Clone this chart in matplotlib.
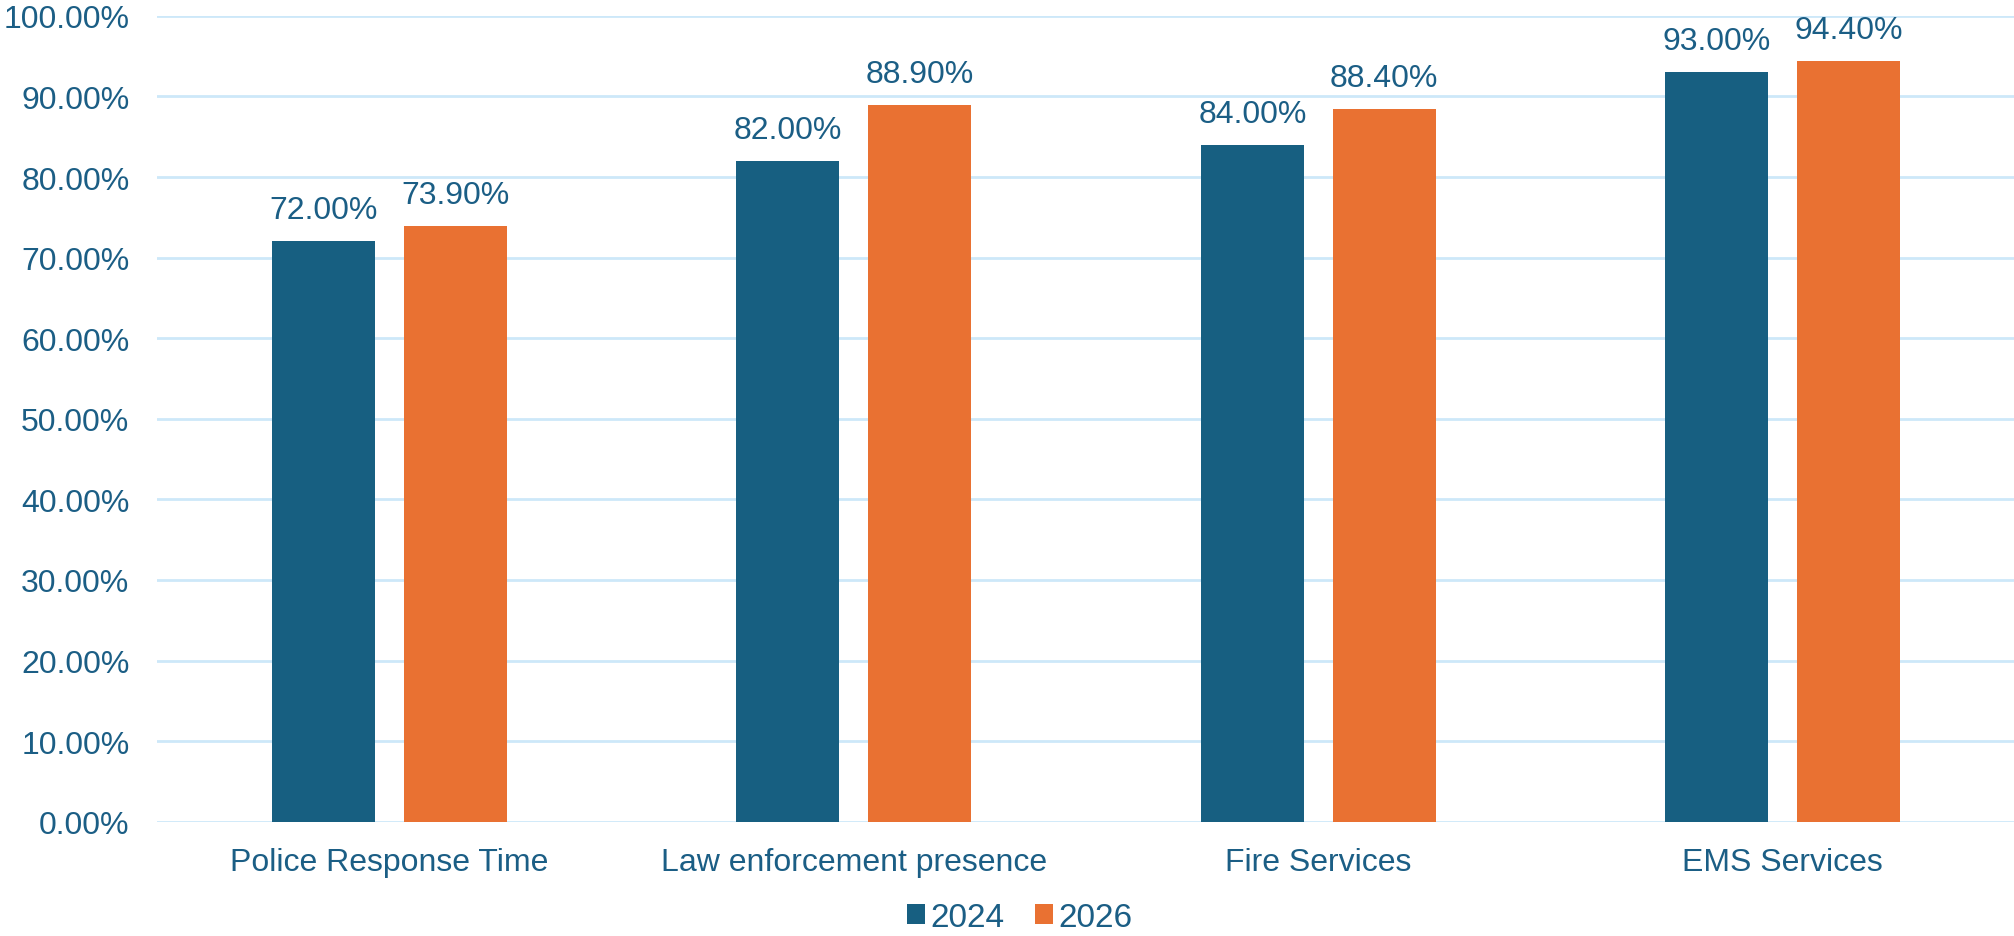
import matplotlib.pyplot as plt
import numpy as np
from matplotlib.ticker import FuncFormatter

plt.rcParams['font.family'] = ['Liberation Sans', 'DejaVu Sans']

categories = ["Police Response Time", "Law enforcement presence", "Fire Services", "EMS Services"]
series_names = ["2024", "2026"]
values_2024 = [72.0, 82.0, 84.0, 93.0]
values_2026 = [73.9, 88.9, 88.4, 94.4]

text_color = "#1B5E85"
colors = ["#175F81", "#E97132"]

fig = plt.figure(figsize=(20.15, 9.37), dpi=100)
ax = fig.add_axes([0.078, 0.122, 0.922, 0.86])

x = np.arange(len(categories))
width = 0.222
offset = 0.142

for vals, name, color, dx in zip([values_2024, values_2026], series_names, colors, [-offset, offset]):
    bars = ax.bar(x + dx, vals, width, color=color, label=name, zorder=3)
    for b, v in zip(bars, vals):
        ax.text(b.get_x() + b.get_width() / 2, v + 2.0, f"{v:.2f}%",
                ha="center", va="bottom", fontsize=23, color=text_color, clip_on=False)

ax.set_xlim(-0.5, len(categories) - 0.5)
ax.set_ylim(0, 100)
ax.set_yticks(np.arange(0, 101, 10))
ax.yaxis.set_major_formatter(FuncFormatter(lambda v, p: f"{v:.2f}%"))
ax.set_xticks(x)
ax.set_xticklabels(categories)
ax.tick_params(axis="both", length=0, labelsize=23, labelcolor=text_color)
ax.tick_params(axis="x", pad=18)
ax.tick_params(axis="y", pad=20)

ax.grid(axis="y", color="#CDE8F9", linewidth=2, zorder=0)
for s in ax.spines.values():
    s.set_visible(False)

# legend sits centred under the whole figure
handles, labels = ax.get_legend_handles_labels()
fig.legend(handles, labels, loc="center", bbox_to_anchor=(0.506, 0.02), ncol=2, frameon=False,
           fontsize=24, labelcolor=text_color, handlelength=0.55, handleheight=0.55,
           handletextpad=0.15, columnspacing=0.9)

fig.savefig("out.png", dpi=100)
